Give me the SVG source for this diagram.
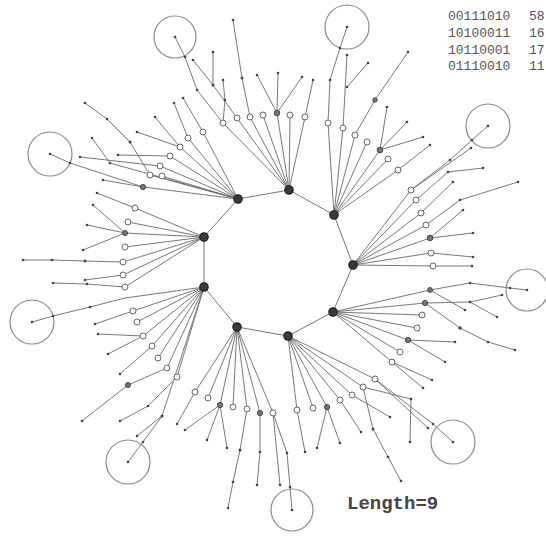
<svg xmlns="http://www.w3.org/2000/svg" width="546" height="538" viewBox="0 0 546 538">
<style>
.c{fill:none;stroke:#6a6a6a;stroke-width:0.9}
.ring{fill:none;stroke:#777;stroke-width:1}
.o{fill:#fff;stroke:#666;stroke-width:1}
.f{fill:#777;stroke:#444;stroke-width:1}
.d{fill:#444}
.h{fill:#3a3a3a;stroke:#222;stroke-width:1.2}
.big{fill:none;stroke:#8a8a8a;stroke-width:1.2}
.t{font-family:"Liberation Mono",monospace;font-size:13px;fill:#555}
.len{font-family:"Liberation Mono",monospace;font-size:19px;font-weight:bold;fill:#444}
</style>
<rect width="546" height="538" fill="#fff"/>
<g id="connectors">
<path class="ring" d="M289,190 L334,215 L353,265 L333,312 L288,336 L237,327 L204,287 L204,237 L238,199 Z"/>
<path class="c" d="M238,199 L143,187 L70,163 L50,154 M238,199 L160,166 L80,157 M238,199 L150,175 L130,142 L107,119 L85,103 M238,199 L110,163 L92,138 M238,199 L170,156 L118,155 M238,199 L180,147 L137,132 M180,147 L155,117 M238,199 L188,138 L174,103 M238,199 L203,132 L183,98 M143,187 L103,180 M238,199 L162,176"/>
<path class="c" d="M289,190 L223,123 L197,90 L185,57 L175,37 M223,123 L225,100 L223,80 M289,190 L237,118 L213,85 L213,52 M213,85 L193,60 M289,190 L250,117 L242,78 L233,20 M289,190 L263,115 M289,190 L277,113 L257,75 M277,113 L278,73 M277,113 L302,77 M289,190 L290,115 M289,190 L305,117 L313,80"/>
<path class="c" d="M334,215 L328,123 L330,80 L340,48 L347,27 M334,215 L343,128 L347,55 M347,87 L368,63 M334,215 L355,135 L375,100 L408,52 M334,215 L367,142 M334,215 L380,150 L387,107 M380,150 L407,122 M380,150 L423,137 M334,215 L388,159 M334,215 L398,170 L430,145"/>
<path class="c" d="M353,265 L411,190 L450,160 L472,140 L488,126 M411,190 L471,148 M353,265 L416,200 L448,172 L483,168 M353,265 L421,213 L453,182 M353,265 L426,225 L460,200 L518,182 M353,265 L430,238 L463,210 M430,238 L473,233 M353,265 L431,253 L473,257 M353,265 L433,266 L472,266"/>
<path class="c" d="M333,312 L430,290 L470,283 L510,288 L527,290 M430,290 L465,310 M333,312 L425,303 L470,302 L502,295 M470,302 L497,317 M425,303 L460,328 L488,342 L515,350 M333,312 L422,315 M333,312 L417,328 M333,312 L408,340 L455,342 M408,340 L445,362 M333,312 L400,352 M333,312 L392,362 L432,380 M392,362 L423,388"/>
<path class="c" d="M288,336 L375,379 L433,424 L453,442 M375,379 L428,428 M288,336 L363,387 L411,399 L410,442 M363,387 L373,429 L388,457 L401,481 M288,336 L352,395 L390,417 M288,336 L340,400 L361,432 M288,336 L327,407 L340,443 M327,407 L317,448 M288,336 L313,408 M288,336 L297,410 L305,452"/>
<path class="c" d="M237,327 L273,413 L287,453 L290,487 L292,510 M273,413 L280,485 M237,327 L260,413 L260,452 L257,485 M237,327 L247,409 L240,450 L233,482 L228,508 M237,327 L233,407 M237,327 L220,405 L207,440 M220,405 L227,448 M220,405 L185,430 M237,327 L208,398 M237,327 L195,392 L177,424"/>
<path class="c" d="M204,287 L125,298 L90,307 L53,316 L32,322 M204,287 L133,311 L95,324 M204,287 L143,336 L98,334 M143,336 L108,354 M204,287 L137,322 M204,287 L152,346 L120,374 M204,287 L158,358 M204,287 L167,368 L128,385 L82,421 M204,287 L177,377 L148,406 L120,421 M204,287 L162,416 L143,442 L128,462 M162,416 L137,436"/>
<path class="c" d="M204,237 L123,262 L85,261 L52,260 L23,260 M204,237 L135,208 L97,193 M204,237 L125,233 L93,205 M125,233 L87,225 M125,233 L83,250 M204,237 L128,222 M204,237 L125,247 M204,237 L123,275 L85,280 M204,237 L125,287 L87,284 L53,283"/>
</g>
<g id="star-1">
<circle class="big" cx="50" cy="154" r="22"/>
<g class="o"><circle cx="160" cy="166" r="3"/><circle cx="150" cy="175" r="3"/><circle cx="170" cy="156" r="3"/><circle cx="180" cy="147" r="3"/><circle cx="188" cy="138" r="3"/><circle cx="203" cy="132" r="3"/><circle cx="162" cy="176" r="3"/></g>
<circle class="f" cx="143" cy="187" r="2.6"/>
<g class="d"><circle cx="50" cy="154" r="1.3"/><circle cx="70" cy="163" r="1.3"/><circle cx="80" cy="157" r="1.3"/><circle cx="130" cy="142" r="1.5"/><circle cx="107" cy="119" r="1.3"/><circle cx="85" cy="103" r="1.3"/><circle cx="110" cy="163" r="1.3"/><circle cx="92" cy="138" r="1.3"/><circle cx="118" cy="155" r="1.3"/><circle cx="137" cy="132" r="1.3"/><circle cx="155" cy="117" r="1.3"/><circle cx="174" cy="103" r="1.3"/><circle cx="183" cy="98" r="1.3"/><circle cx="103" cy="180" r="1.3"/></g>
<circle class="h" cx="238" cy="199" r="4.2"/>
</g>
<g id="star-2">
<circle class="big" cx="175" cy="37" r="21"/>
<g class="o"><circle cx="223" cy="123" r="3"/><circle cx="237" cy="118" r="3"/><circle cx="250" cy="117" r="3"/><circle cx="263" cy="115" r="3"/><circle cx="290" cy="115" r="3"/><circle cx="305" cy="117" r="3"/></g>
<circle class="f" cx="277" cy="113" r="2.8"/>
<g class="d"><circle cx="175" cy="37" r="1.3"/><circle cx="197" cy="90" r="1.3"/><circle cx="185" cy="57" r="1.3"/><circle cx="225" cy="100" r="1.3"/><circle cx="223" cy="80" r="1.3"/><circle cx="213" cy="85" r="1.5"/><circle cx="213" cy="52" r="1.3"/><circle cx="193" cy="60" r="1.3"/><circle cx="242" cy="78" r="1.5"/><circle cx="233" cy="20" r="1.3"/><circle cx="257" cy="75" r="1.3"/><circle cx="278" cy="73" r="1.3"/><circle cx="302" cy="77" r="1.3"/><circle cx="313" cy="80" r="1.3"/></g>
<circle class="h" cx="289" cy="190" r="4.2"/>
</g>
<g id="star-3">
<circle class="big" cx="347" cy="27" r="22"/>
<g class="o"><circle cx="328" cy="123" r="3"/><circle cx="343" cy="128" r="3"/><circle cx="355" cy="135" r="3"/><circle cx="367" cy="142" r="3"/><circle cx="388" cy="159" r="3"/><circle cx="398" cy="170" r="3"/></g>
<circle class="f" cx="380" cy="150" r="2.8"/><circle class="f" cx="375" cy="100" r="2.2"/>
<g class="d"><circle cx="347" cy="27" r="1.3"/><circle cx="330" cy="80" r="1.3"/><circle cx="340" cy="48" r="1.3"/><circle cx="347" cy="87" r="1.3"/><circle cx="347" cy="55" r="1.3"/><circle cx="368" cy="63" r="1.3"/><circle cx="408" cy="52" r="1.3"/><circle cx="387" cy="107" r="1.3"/><circle cx="407" cy="122" r="1.3"/><circle cx="423" cy="137" r="1.3"/><circle cx="430" cy="145" r="1.3"/></g>
<circle class="h" cx="334" cy="215" r="4.2"/>
</g>
<g id="star-4">
<circle class="big" cx="488" cy="126" r="22"/>
<g class="o"><circle cx="411" cy="190" r="3"/><circle cx="416" cy="200" r="3"/><circle cx="421" cy="213" r="3"/><circle cx="426" cy="225" r="3"/><circle cx="431" cy="253" r="3"/><circle cx="433" cy="266" r="3"/></g>
<circle class="f" cx="430" cy="238" r="2.8"/>
<g class="d"><circle cx="488" cy="126" r="1.3"/><circle cx="450" cy="160" r="1.3"/><circle cx="472" cy="140" r="1.3"/><circle cx="471" cy="148" r="1.3"/><circle cx="448" cy="172" r="1.3"/><circle cx="483" cy="168" r="1.3"/><circle cx="453" cy="182" r="1.3"/><circle cx="460" cy="200" r="1.3"/><circle cx="518" cy="182" r="1.3"/><circle cx="463" cy="210" r="1.3"/><circle cx="473" cy="233" r="1.3"/><circle cx="473" cy="257" r="1.3"/><circle cx="472" cy="266" r="1.3"/></g>
<circle class="h" cx="353" cy="265" r="4.2"/>
</g>
<g id="star-5">
<circle class="big" cx="527" cy="290" r="21"/>
<g class="o"><circle cx="422" cy="315" r="3"/><circle cx="417" cy="328" r="3"/><circle cx="400" cy="352" r="3"/><circle cx="392" cy="362" r="3"/></g>
<g class="f"><circle cx="430" cy="290" r="2.4"/><circle cx="425" cy="303" r="2.6"/><circle cx="408" cy="340" r="2.6"/></g>
<g class="d"><circle cx="527" cy="290" r="1.3"/><circle cx="470" cy="283" r="1.3"/><circle cx="510" cy="288" r="1.3"/><circle cx="465" cy="310" r="1.3"/><circle cx="470" cy="302" r="1.3"/><circle cx="502" cy="295" r="1.3"/><circle cx="497" cy="317" r="1.3"/><circle cx="460" cy="328" r="1.7"/><circle cx="488" cy="342" r="1.3"/><circle cx="515" cy="350" r="1.3"/><circle cx="455" cy="342" r="1.3"/><circle cx="445" cy="362" r="1.3"/><circle cx="432" cy="380" r="1.3"/><circle cx="423" cy="388" r="1.3"/></g>
<circle class="h" cx="333" cy="312" r="4.2"/>
</g>
<g id="star-6">
<circle class="big" cx="453" cy="442" r="22"/>
<g class="o"><circle cx="375" cy="379" r="3"/><circle cx="363" cy="387" r="3"/><circle cx="352" cy="395" r="3"/><circle cx="340" cy="400" r="3"/><circle cx="313" cy="408" r="3"/><circle cx="297" cy="410" r="3"/></g>
<circle class="f" cx="327" cy="407" r="2.6"/>
<g class="d"><circle cx="453" cy="442" r="1.3"/><circle cx="433" cy="424" r="1.3"/><circle cx="428" cy="428" r="1.3"/><circle cx="411" cy="399" r="1.3"/><circle cx="410" cy="442" r="1.3"/><circle cx="373" cy="429" r="1.5"/><circle cx="388" cy="457" r="1.3"/><circle cx="401" cy="481" r="1.3"/><circle cx="390" cy="417" r="1.3"/><circle cx="361" cy="432" r="1.3"/><circle cx="340" cy="443" r="1.3"/><circle cx="317" cy="448" r="1.3"/><circle cx="305" cy="452" r="1.3"/></g>
<circle class="h" cx="288" cy="336" r="4.2"/>
</g>
<g id="star-7">
<circle class="big" cx="292" cy="510" r="21"/>
<g class="o"><circle cx="273" cy="413" r="3"/><circle cx="247" cy="409" r="3"/><circle cx="233" cy="407" r="3"/><circle cx="195" cy="392" r="3"/><circle cx="208" cy="398" r="3"/></g>
<g class="f"><circle cx="220" cy="405" r="2.6"/><circle cx="260" cy="413" r="2.6"/></g>
<g class="d"><circle cx="292" cy="510" r="1.3"/><circle cx="287" cy="453" r="1.3"/><circle cx="290" cy="487" r="1.3"/><circle cx="280" cy="485" r="1.3"/><circle cx="260" cy="452" r="1.3"/><circle cx="257" cy="485" r="1.3"/><circle cx="240" cy="450" r="1.5"/><circle cx="233" cy="482" r="1.3"/><circle cx="228" cy="508" r="1.3"/><circle cx="227" cy="448" r="1.3"/><circle cx="207" cy="440" r="1.3"/><circle cx="185" cy="430" r="1.3"/><circle cx="177" cy="424" r="1.3"/></g>
<circle class="h" cx="237" cy="327" r="4.2"/>
</g>
<g id="star-8">
<circle class="big" cx="32" cy="322" r="22"/>
<circle class="big" cx="128" cy="462" r="22"/>
<g class="o"><circle cx="133" cy="311" r="3"/><circle cx="143" cy="336" r="3"/><circle cx="137" cy="322" r="3"/><circle cx="152" cy="346" r="3"/><circle cx="158" cy="358" r="3"/><circle cx="167" cy="368" r="3"/><circle cx="177" cy="377" r="3"/></g>
<circle class="f" cx="128" cy="385" r="2.5"/>
<g class="d"><circle cx="32" cy="322" r="1.3"/><circle cx="128" cy="462" r="1.3"/><circle cx="90" cy="307" r="1.3"/><circle cx="53" cy="316" r="1.3"/><circle cx="95" cy="324" r="1.3"/><circle cx="98" cy="334" r="1.3"/><circle cx="108" cy="354" r="1.3"/><circle cx="120" cy="374" r="1.3"/><circle cx="82" cy="421" r="1.3"/><circle cx="148" cy="406" r="1.3"/><circle cx="120" cy="421" r="1.3"/><circle cx="162" cy="416" r="1.5"/><circle cx="143" cy="442" r="1.3"/><circle cx="137" cy="436" r="1.3"/></g>
<circle class="h" cx="204" cy="287" r="4.2"/>
</g>
<g id="star-9">
<g class="o"><circle cx="123" cy="262" r="3"/><circle cx="135" cy="208" r="3"/><circle cx="128" cy="222" r="3"/><circle cx="125" cy="247" r="3"/><circle cx="123" cy="275" r="3"/><circle cx="125" cy="287" r="3"/></g>
<circle class="f" cx="125" cy="233" r="2.5"/>
<g class="d"><circle cx="85" cy="261" r="1.5"/><circle cx="52" cy="260" r="1.3"/><circle cx="23" cy="260" r="1.3"/><circle cx="97" cy="193" r="1.3"/><circle cx="93" cy="205" r="1.3"/><circle cx="87" cy="225" r="1.3"/><circle cx="83" cy="250" r="1.3"/><circle cx="85" cy="280" r="1.3"/><circle cx="87" cy="284" r="1.3"/><circle cx="53" cy="283" r="1.3"/></g>
<circle class="h" cx="204" cy="237" r="4.2"/>
</g>
<g id="legend">
<text class="t" x="448" y="20">00111010</text><text class="t" x="529" y="20">58</text>
<text class="t" x="448" y="37">10100011</text><text class="t" x="529" y="37">16</text>
<text class="t" x="448" y="54">10110001</text><text class="t" x="529" y="54">17</text>
<text class="t" x="448" y="70">01110010</text><text class="t" x="529" y="70">11</text>
<text class="len" x="347" y="509">Length=9</text>
</g>
</svg>
